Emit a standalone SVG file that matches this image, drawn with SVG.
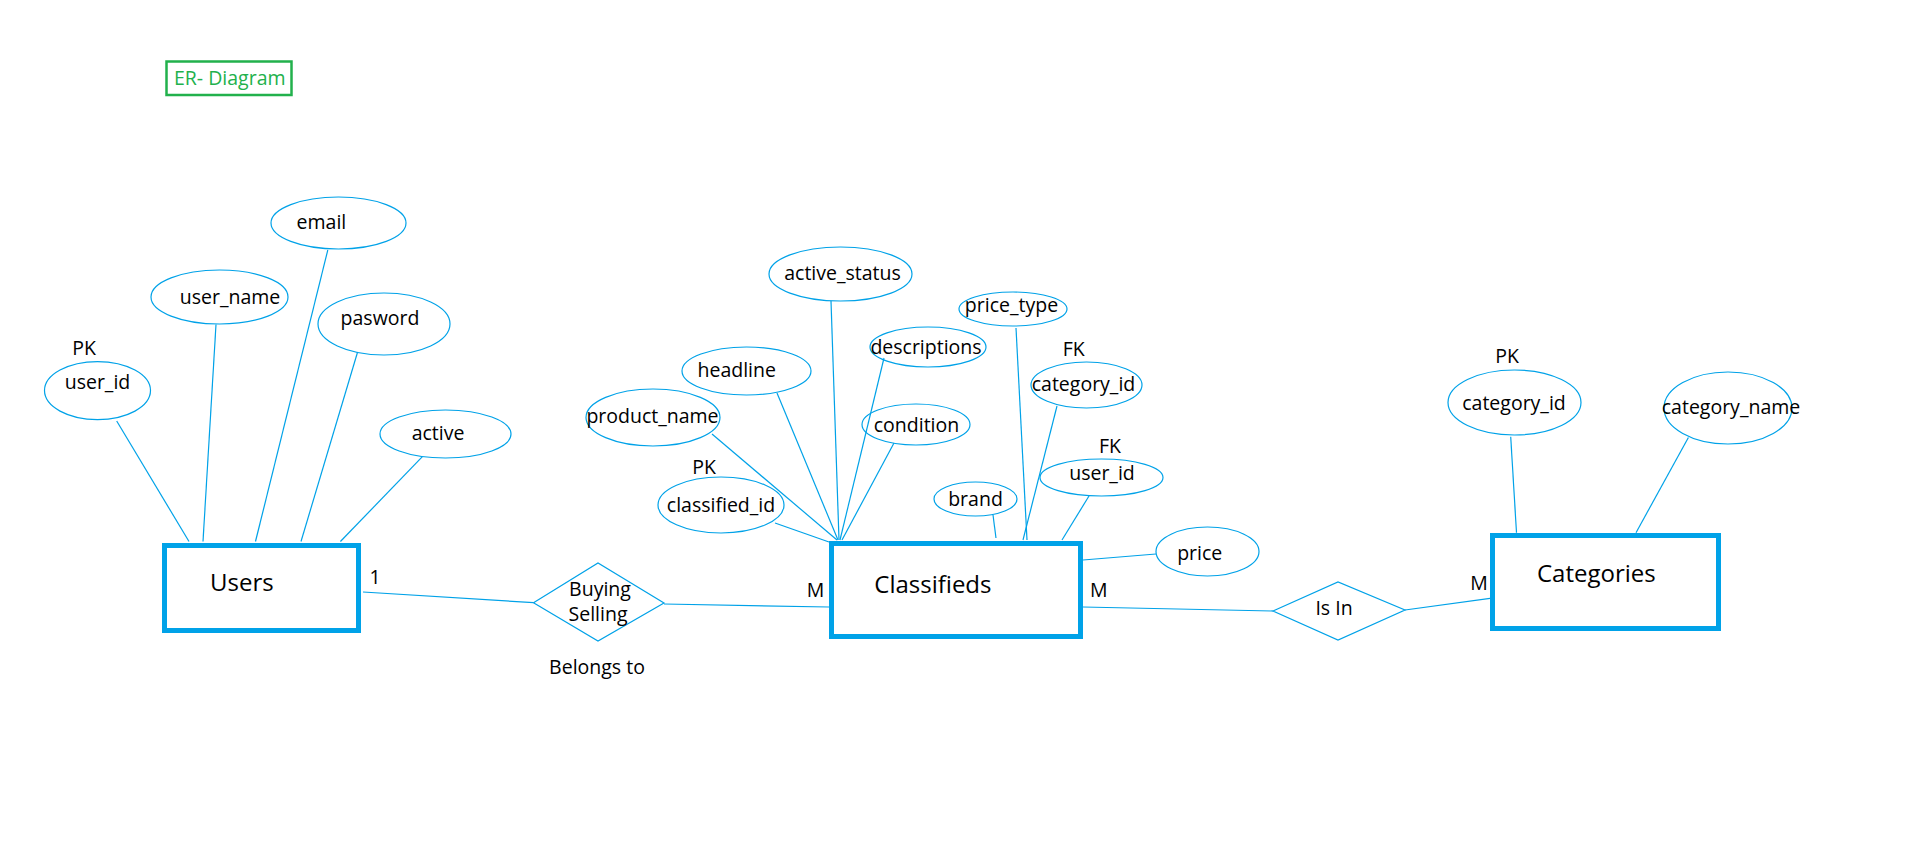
<svg xmlns="http://www.w3.org/2000/svg" width="1914" height="857" viewBox="0 0 1914 857">
<style>
.bg{fill:#ffffff}
.attr{fill:none;stroke:#00A2E8;stroke-width:1.2}
.ent{fill:none;stroke:#00A2E8;stroke-width:5}
.rel{fill:none;stroke:#00A2E8;stroke-width:1.2}
.ln{stroke:#00A2E8;stroke-width:1.2;fill:none}
text{font-family:"Open Sans","Noto Sans","Liberation Sans",sans-serif;fill:#000000;font-size:19.5px}
.c{text-anchor:middle}
.big{font-size:24px}
.title{fill:#22B14C}
</style>
<rect class="bg" x="0" y="0" width="1914" height="857"/>

<g id="title">
<rect x="166.5" y="61.5" width="125" height="33.5" fill="none" stroke="#22B14C" stroke-width="2.5"/>
<text class="title" x="174" y="85">ER- Diagram</text>
</g>

<g id="connectors">
<line class="ln" x1="116.7" y1="421" x2="189" y2="541.5"/>
<line class="ln" x1="216" y1="324.5" x2="203" y2="541.5"/>
<line class="ln" x1="327.8" y1="250" x2="255.5" y2="541.5"/>
<line class="ln" x1="357.6" y1="352" x2="301" y2="541.5"/>
<line class="ln" x1="422.4" y1="456.7" x2="340.4" y2="541.5"/>
<line class="ln" x1="363" y1="592" x2="533.5" y2="602.7"/>
<line class="ln" x1="664" y1="604" x2="829" y2="607"/>
<line class="ln" x1="775" y1="523" x2="829" y2="542"/>
<line class="ln" x1="712" y1="434" x2="837" y2="540"/>
<line class="ln" x1="777" y1="393" x2="838" y2="540"/>
<line class="ln" x1="831" y1="301" x2="839" y2="540"/>
<line class="ln" x1="884" y1="358" x2="840" y2="540"/>
<line class="ln" x1="894" y1="443" x2="842" y2="540"/>
<line class="ln" x1="993" y1="515" x2="996" y2="538"/>
<line class="ln" x1="1016" y1="328" x2="1027" y2="540"/>
<line class="ln" x1="1057" y1="406" x2="1023" y2="540"/>
<line class="ln" x1="1089" y1="496" x2="1062" y2="540"/>
<line class="ln" x1="1083" y1="560" x2="1156" y2="554"/>
<line class="ln" x1="1083" y1="607" x2="1273" y2="611"/>
<line class="ln" x1="1405" y1="610" x2="1490" y2="598.4"/>
<line class="ln" x1="1510.7" y1="436.8" x2="1516.5" y2="532.7"/>
<line class="ln" x1="1688.4" y1="437.5" x2="1636" y2="532.7"/>
</g>

<g id="users">
<rect class="ent" x="164.5" y="545.5" width="194" height="85"/>
<text class="big" x="210" y="590.6">Users</text>
<text class="c" x="375" y="584">1</text>
</g>
<g id="user_email">
<ellipse class="attr" cx="338.5" cy="223" rx="67.5" ry="26"/>
<text class="c" x="321.4" y="228.6">email</text>
</g>
<g id="user_name">
<ellipse class="attr" cx="219.5" cy="297" rx="68.5" ry="27"/>
<text class="c" x="230" y="303.6">user_name</text>
</g>
<g id="user_pasword">
<ellipse class="attr" cx="384" cy="324" rx="66" ry="31"/>
<text class="c" x="380" y="324.5">pasword</text>
</g>
<g id="user_id">
<text class="c" x="84" y="355">PK</text>
<ellipse class="attr" cx="97.5" cy="390.6" rx="53" ry="29"/>
<text class="c" x="97.5" y="389.3">user_id</text>
</g>
<g id="user_active">
<ellipse class="attr" cx="445.5" cy="434" rx="65.5" ry="24"/>
<text class="c" x="438" y="440">active</text>
</g>

<g id="rel_buying_selling">
<polygon class="rel" points="533.5,602.7 598,563 664,603 598,641"/>
<text class="c" x="600" y="596">Buying</text>
<text class="c" x="598" y="621">Selling</text>
<text class="c" x="597" y="674">Belongs to</text>
</g>

<g id="classifieds">
<rect class="ent" x="831.5" y="543.5" width="249" height="93"/>
<text class="big" x="874.3" y="593.3">Classifieds</text>
<text x="806.7" y="597.3">M</text>
<text x="1090" y="596.7">M</text>
</g>
<g id="cl_active_status">
<ellipse class="attr" cx="840.5" cy="274" rx="71.5" ry="27"/>
<text class="c" x="842.5" y="280">active_status</text>
</g>
<g id="cl_descriptions">
<ellipse class="attr" cx="928" cy="347" rx="58" ry="20"/>
<text class="c" x="926" y="354">descriptions</text>
</g>
<g id="cl_headline">
<ellipse class="attr" cx="746.5" cy="371" rx="64.5" ry="24"/>
<text class="c" x="736.7" y="376.7">headline</text>
</g>
<g id="cl_product_name">
<ellipse class="attr" cx="653" cy="417.5" rx="67" ry="28.5"/>
<text class="c" x="652.5" y="422.7">product_name</text>
</g>
<g id="cl_classified_id">
<text class="c" x="704" y="474">PK</text>
<ellipse class="attr" cx="721" cy="505" rx="63" ry="28"/>
<text class="c" x="721" y="511.7">classified_id</text>
</g>
<g id="cl_condition">
<ellipse class="attr" cx="916" cy="424.5" rx="54" ry="20.5"/>
<text class="c" x="916.5" y="431.7">condition</text>
</g>
<g id="cl_brand">
<ellipse class="attr" cx="975.5" cy="499" rx="41.5" ry="17"/>
<text class="c" x="975.5" y="505.7">brand</text>
</g>
<g id="cl_price_type">
<ellipse class="attr" cx="1013" cy="309" rx="54" ry="17"/>
<text class="c" x="1011.5" y="311.7">price_type</text>
</g>
<g id="cl_category_id">
<text class="c" x="1073.7" y="355.7">FK</text>
<ellipse class="attr" cx="1086.5" cy="385" rx="55.5" ry="23"/>
<text class="c" x="1083.5" y="390.7">category_id</text>
</g>
<g id="cl_user_id">
<text class="c" x="1110" y="452.7">FK</text>
<ellipse class="attr" cx="1101.5" cy="477.5" rx="61.5" ry="18.5"/>
<text class="c" x="1102" y="480">user_id</text>
</g>
<g id="cl_price">
<ellipse class="attr" cx="1207.5" cy="551.5" rx="51.5" ry="24.5"/>
<text class="c" x="1199.7" y="560">price</text>
</g>

<g id="rel_is_in">
<polygon class="rel" points="1273,611 1338,582 1405,610 1338,640"/>
<text class="c" x="1334" y="615">Is In</text>
</g>

<g id="categories">
<rect class="ent" x="1492.5" y="535.5" width="226" height="93"/>
<text class="big" x="1537" y="582.4">Categories</text>
<text class="c" x="1479" y="589.5">M</text>
</g>
<g id="cat_category_id">
<text class="c" x="1507" y="362.5">PK</text>
<ellipse class="attr" cx="1514.5" cy="402.5" rx="66.5" ry="32.5"/>
<text class="c" x="1514" y="410">category_id</text>
</g>
<g id="cat_category_name">
<ellipse class="attr" cx="1728" cy="408" rx="64" ry="36"/>
<text class="c" x="1731" y="414.4">category_name</text>
</g>
</svg>
